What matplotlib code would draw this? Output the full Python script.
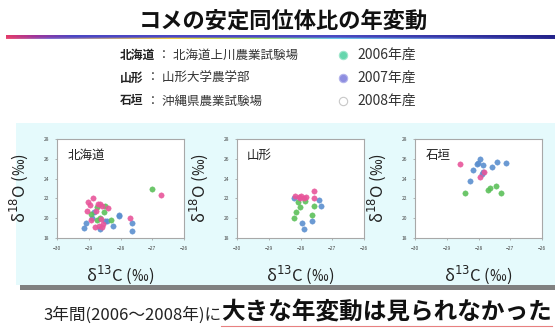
import numpy as np
import matplotlib
matplotlib.use("Agg")
import matplotlib.pyplot as plt
from matplotlib.colors import LinearSegmentedColormap
from matplotlib.patches import Rectangle
from matplotlib.lines import Line2D

plt.rcParams['font.family'] = ['Noto Sans CJK JP', 'DejaVu Sans']

# site labels and legend text
sites = ["北海道", "山形", "石垣"]
site_names = ["北海道上川農業試験場", "山形大学農学部", "沖縄県農業試験場"]
years = ["2006年産", "2007年産", "2008年産"]

# delta13C / delta18O per site and year
hok_06_c = [-27.0, -28.48, -28.73, -28.92, -28.51, -28.65, -28.31, -28.73]
hok_06_o = [22.9, 21.23, 21.13, 20.45, 20.59, 20.02, 19.78, 19.78]
hok_07_c = [-28.04, -28.04, -27.65, -27.65, -29.16, -29.1, -28.89, -28.82, -28.65, -28.25, -28.42, -28.49]
hok_07_o = [20.35, 20.18, 19.51, 18.74, 19.01, 19.51, 20.02, 20.66, 18.94, 19.21, 19.71, 19.68]
hok_08_c = [-26.71, -28.87, -29.01, -28.95, -28.71, -28.63, -28.57, -28.39, -29.07, -28.76,
            -28.92, -28.6, -27.69, -28.81, -28.67, -28.58, -28.55]
hok_08_o = [22.37, 22.07, 21.6, 21.36, 21.46, 21.46, 21.26, 20.99, 20.69, 20.69,
            19.85, 19.92, 19.98, 19.11, 19.24, 19.11, 19.41]

yam_06_c = [-28.09, -27.86, -28.02, -28.15, -28.19, -27.56, -27.64]
yam_06_o = [21.66, 21.76, 21.16, 20.66, 19.98, 21.26, 20.29]
yam_07_c = [-28.19, -27.42, -27.36, -27.64, -27.95, -27.9]
yam_07_o = [22.07, 21.87, 21.26, 19.68, 19.48, 18.94]
yam_08_c = [-27.57, -27.58, -28.16, -28.06, -27.98, -27.9, -27.84, -28.03]
yam_08_o = [22.71, 22.07, 22.2, 22.1, 22.27, 22.03, 22.1, 22.0]

ish_06_c = [-28.43, -27.69, -27.64, -27.45, -27.29]
ish_06_o = [22.5, 22.87, 23.07, 23.28, 22.54]
ish_07_c = [-27.96, -28.06, -28.01, -27.85, -27.43, -27.13, -27.56, -28.17, -27.85, -27.88, -28.26]
ish_07_o = [26.03, 25.43, 25.56, 25.4, 25.66, 25.53, 25.19, 24.89, 24.62, 24.45, 23.78]
ish_08_c = [-28.57, -27.84, -27.96]
ish_08_o = [25.43, 24.69, 24.18]

xticks = [-30, -29, -28, -27, -26]
yticks = [18, 20, 22, 24, 26, 28]

col_06 = "#5cc05a"
col_07 = "#5b8fcf"
col_08 = "#e8559a"

W, H = 555, 328
fig = plt.figure(figsize=(W / 100, H / 100), dpi=100)


def fx(px):
    return px / W


def fy(py):
    return 1 - py / H


# title and gradient rule
fig.text(fx(283), fy(21), "コメの安定同位体比の年変動", ha="center", va="center",
         fontsize=16, fontweight="bold", color="#111111")

rule = fig.add_axes([fx(6), fy(39), 1 - fx(6), 4 / H])
rule.axis("off")
top_cm = LinearSegmentedColormap.from_list(
    "top", [(0, "#e03a6c"), (0.05, "#a0349a"), (0.12, "#4c46c4"), (0.6, "#4a4ac2"), (1, "#23228a")])
bot_cm = LinearSegmentedColormap.from_list(
    "bot", [(0, "#e8507a"), (0.08, "#8070d0"), (0.3, "#f0d040"), (0.45, "#a8e060"),
            (0.6, "#70c8e8"), (0.8, "#6a80d8"), (1, "#2a2a90")])
g = np.linspace(0, 1, 400)
img = np.stack([top_cm(g), top_cm(g), bot_cm(g)])
rule.imshow(img, aspect="auto", extent=[0, 1, 0, 1])

# legend block
rows_y = [55, 78, 101]
for i in range(3):
    t = fig.text(fx(120), fy(rows_y[i]), sites[i], ha="left", va="center",
                 fontsize=8.5, fontweight="bold", color="#222222")
    fig.canvas.draw()
    bb = t.get_window_extent()
    fig.text(bb.x1 / W, fy(rows_y[i]), " ： " + site_names[i], ha="left", va="center",
             fontsize=9, color="#333333")
leg_faces = ["#66d6ad", "#8e8ee0", "#ffffff"]
leg_edges = ["#9fe6cc", "#b4b4ec", "#c8c8c8"]
for i in range(3):
    fig.add_artist(Line2D([fx(343)], [fy(rows_y[i])], marker="o", markersize=6,
                          markerfacecolor=leg_faces[i], markeredgecolor=leg_edges[i],
                          markeredgewidth=0.8, linestyle="none"))
    fig.text(fx(357), fy(rows_y[i]), years[i], ha="left", va="center",
             fontsize=10, color="#333333")

# light blue band and grey bar
fig.add_artist(Rectangle((fx(16), fy(285)), 1 - fx(16), 162 / H,
                         transform=fig.transFigure, facecolor="#e5fafc", edgecolor="none", zorder=0))
fig.add_artist(Rectangle((fx(20), fy(290)), 1 - fx(20), 5 / H,
                         transform=fig.transFigure, facecolor="#808080", edgecolor="none", zorder=0))

panels = [
    (57, "北海道", (hok_06_c, hok_06_o), (hok_07_c, hok_07_o), (hok_08_c, hok_08_o)),
    (237, "山形", (yam_06_c, yam_06_o), (yam_07_c, yam_07_o), (yam_08_c, yam_08_o)),
    (415, "石垣", (ish_06_c, ish_06_o), (ish_07_c, ish_07_o), (ish_08_c, ish_08_o)),
]

for left, name, s06, s07, s08 in panels:
    ax = fig.add_axes([fx(left), fy(238), 127 / W, 99 / H])
    ax.set_facecolor("white")
    for (xs, ys), c in [(s07, col_07), (s06, col_06), (s08, col_08)]:
        ax.scatter(xs, ys, s=15, color=c, edgecolors=c, linewidths=0.3, alpha=0.9, zorder=3)
    ax.set_xlim(-30, -26)
    ax.set_ylim(18, 28)
    ax.set_xticks(xticks)
    ax.set_yticks(yticks)
    ax.tick_params(labelsize=3.5, length=1.5, width=0.5, colors="#999999", labelcolor="#444444", pad=4)
    for sp in ax.spines.values():
        sp.set_color("#a8a8a8")
        sp.set_linewidth(0.8)
    ax.text(0.08, 0.9, name, transform=ax.transAxes, ha="left", va="top",
            fontsize=9, color="#222222")
    ax.set_xlabel(r"δ$^{13}$C (‰)", fontsize=12, color="#222222", labelpad=9)
    ax.set_ylabel(r"δ$^{18}$O (‰)", fontsize=12, color="#222222", labelpad=10)

# closing statement
t1 = fig.text(fx(43), fy(320), "3年間(2006～2008年)に", ha="left", va="baseline",
              fontsize=12, color="#222222")
fig.canvas.draw()
b1 = t1.get_window_extent()
t2 = fig.text(b1.x1 / W, fy(320), "大きな年変動は見られなかった", ha="left", va="baseline",
              fontsize=17, fontweight="bold", color="#111111")
fig.canvas.draw()
b2 = t2.get_window_extent()
fig.add_artist(Line2D([b2.x0 / W, b2.x1 / W], [fy(325.5), fy(325.5)], color="#e88080",
                      linewidth=0.8, transform=fig.transFigure))

fig.savefig("out.png", dpi=100)
